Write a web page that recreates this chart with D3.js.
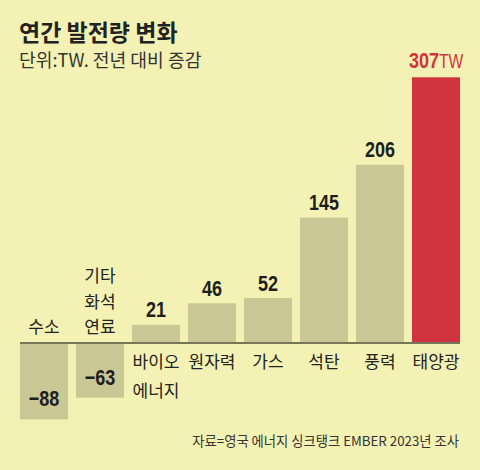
<!DOCTYPE html>
<html>
<head>
<meta charset="utf-8">
<script src="https://cdn.jsdelivr.net/npm/d3@7"></script>
<style>
  body { margin: 0; background: #f3f2b4; }
  svg { display: block; }
</style>
</head>
<body>
<div id="chart-area"></div>
<script>
// data
var categories = ["수소", "기타\n화석\n연료", "바이오\n에너지", "원자력", "가스", "석탄", "풍력", "태양광"];
var values = [-88, -63, 21, 46, 52, 145, 206, 307];
var highlight = "태양광";

var width = 480, height = 470;
var kr = "'Noto Sans CJK KR', 'Noto Sans', sans-serif";
var num = "'Liberation Sans', Arial, sans-serif";
var squeeze = 0.8; // condensed look for the numbers

var svg = d3.select("#chart-area")
  .append("svg")
    .attr("width", width)
    .attr("height", height);

svg.append("rect")
  .attr("width", width).attr("height", height)
  .attr("fill", "#f3f2b4");

// titles
svg.append("text")
  .attr("x", 19).attr("y", 41)
  .attr("font-family", kr).attr("font-size", "23px").attr("font-weight", "bold")
  .attr("fill", "#222")
  .text("연간 발전량 변화");

svg.append("text")
  .attr("x", 19).attr("y", 67)
  .attr("font-family", kr).attr("font-size", "18.2px")
  .attr("fill", "#333")
  .text("단위:TW. 전년 대비 증감");

// scales
var x = d3.scaleBand()
  .domain(categories)
  .range([20, 460])
  .paddingInner(1 / 7)
  .paddingOuter(0);

var y = d3.scaleLinear()
  .domain([-88, 307])
  .range([419.3, 77.3]);

var data = categories.map(function(c, i){ return { cat: c, value: values[i] }; });

// bars
svg.selectAll("rect.bar")
  .data(data)
  .enter().append("rect")
    .attr("class", "bar")
    .attr("x", function(d){ return x(d.cat); })
    .attr("y", function(d){ return y(Math.max(0, d.value)); })
    .attr("width", x.bandwidth())
    .attr("height", function(d){ return Math.abs(y(d.value) - y(0)); })
    .attr("fill", function(d){ return d.cat === highlight ? "#d0343e" : "#c9c793"; });

// baseline
svg.append("line")
  .attr("x1", 20).attr("x2", 460)
  .attr("y1", y(0)).attr("y2", y(0))
  .attr("stroke", "#76765a").attr("stroke-width", 2);

// value labels
data.forEach(function(d){
  var cx = x(d.cat) + x.bandwidth() / 2;
  var ty;
  if (d.cat === highlight) ty = y(d.value) - 9;
  else if (d.value >= 0) ty = y(d.value) - 7.5;
  else ty = y(d.value) - 13;

  var t = svg.append("text")
    .attr("transform", "translate(" + cx + "," + ty + ") scale(" + squeeze + ",1)")
    .attr("text-anchor", "middle")
    .attr("font-family", num)
    .attr("fill", d.cat === highlight ? "#d0343e" : "#1e1e1e");

  if (d.cat === highlight) {
    t.append("tspan")
      .attr("font-size", "22.5px").attr("font-weight", "bold")
      .text(d.value);
    t.append("tspan")
      .attr("font-size", "19.5px")
      .text("TW");
  } else {
    t.attr("font-size", "22.5px").attr("font-weight", "bold")
      .text(d.value < 0 ? "\u2212" + Math.abs(d.value) : d.value);
  }
});

// category labels
data.forEach(function(d){
  var cx = x(d.cat) + x.bandwidth() / 2;
  var lines = d.cat.split("\n");
  var t = svg.append("text")
    .attr("text-anchor", "middle")
    .attr("font-family", kr).attr("font-size", "17px")
    .attr("fill", "#222");
  lines.forEach(function(l, i){
    var yy;
    if (d.value < 0) yy = y(0) - 10 - (lines.length - 1 - i) * 25.5;
    else yy = y(0) + 25 + i * 29;
    t.append("tspan").attr("x", cx).attr("y", yy).text(l);
  });
});

// source
svg.append("text")
  .attr("x", 459).attr("y", 446)
  .attr("text-anchor", "end")
  .attr("font-family", kr).attr("font-size", "13.3px")
  .attr("fill", "#333")
  .text("자료=영국 에너지 싱크탱크 EMBER 2023년 조사");
</script>
</body>
</html>
